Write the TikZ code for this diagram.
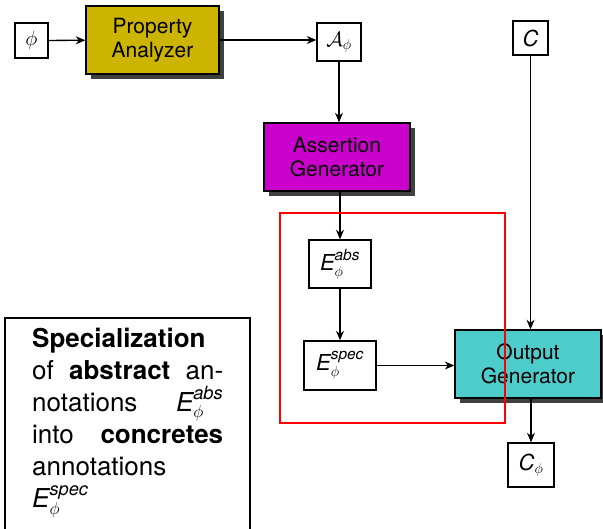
\documentclass[tikz,border=0pt]{standalone}
\usepackage{amsmath}
\usepackage{fontspec}
\setmainfont{TeX Gyre Heros}
\usetikzlibrary{arrows.meta,shadows}
\definecolor{paYellow}{RGB}{204,180,0}
\definecolor{agMagenta}{RGB}{204,0,204}
\definecolor{ogCyan}{RGB}{77,204,204}
\definecolor{shadowGray}{RGB}{64,64,64}
\newcommand{\nodefs}{\fontsize{21}{24}\selectfont}
\newcommand{\mathfs}{\fontsize{22}{24}\selectfont}
\newcommand{\notefs}{\fontsize{26}{32}\selectfont}
\begin{document}
\begin{tikzpicture}[x=1pt,y=-1pt,
  leaf/.style={draw, line width=1.4pt, fill=white, inner sep=0pt, align=center, font=\nodefs},
  proc/.style={leaf, drop shadow={shadow xshift=5pt, shadow yshift=-5pt, fill=shadowGray, opacity=1}},
  arr/.style={-{Stealth[length=9.5pt,width=8pt,inset=3pt]}, line width=1.3pt},
  focusbox/.style={draw=red, line width=1.6pt, inner sep=0pt}
]
\useasboundingbox (0,0) rectangle (603,528);
\fill[white] (0,0) rectangle (603,528);

\node[leaf, minimum width=33pt, minimum height=35pt, font=\mathfs] (phi) at (31.5,40.5) {$\phi$};
\node[proc, fill=paYellow, minimum width=133pt, minimum height=68pt] (pa) at (152.5,40) {Property\\Analyzer};
\node[leaf, minimum width=44pt, minimum height=38pt, font=\mathfs] (A) at (339,42) {$\mathcal{A}_\phi$};
\node[proc, fill=agMagenta, minimum width=146pt, minimum height=68pt] (ag) at (337,157) {Assertion\\Generator};
\node[leaf, minimum width=35pt, minimum height=34pt, font=\mathfs] (C) at (530.5,38) {\textit{C}};
\node[leaf, minimum width=62pt, minimum height=48pt, font=\mathfs] (eabs) at (340,264) {$\textit{E}^{\textit{abs}}_{\phi}$};
\node[leaf, minimum width=72pt, minimum height=49pt, font=\mathfs] (espec) at (340,365.5) {$\textit{E}^{\textit{spec}}_{\phi}$};
\node[proc, fill=ogCyan, minimum width=146pt, minimum height=68pt] (og) at (528,364) {Output\\Generator};
\node[leaf, minimum width=46pt, minimum height=44pt, font=\mathfs] (cphi) at (531,465) {\textit{C}$_\phi$};

\draw[arr] (phi) -- (pa);
\draw[arr] (pa.east) -- (pa.east -| A.west);
\draw[arr] (A.south) -- (A.south |- ag.north);
\draw[arr] (ag.south -| eabs.north) -- (eabs.north);
\draw[arr] (eabs) -- (espec);
\draw[arr] (espec.east) -- (espec.east -| og.west);
\draw[arr] (C.south) -- (C.south |- og.north);
\draw[arr] (og.south -| cphi.north) -- (cphi.north);

\node[focusbox, minimum width=225pt, minimum height=210pt] (focus) at (392.5,318) {};

\draw[line width=1.4pt] (5,540) |- (250,318) -- (250,540);
\node[anchor=north west, inner sep=0pt, text width=191pt, font=\notefs] (note) at (32,328) {%
\textbf{Specialization}\\
of\hfill\textbf{abstract}\hfill an-\\
notations\hfill$\textit{E}^{\textit{abs}}_{\phi}$\\
into\hfill\textbf{concretes}\\
annotations\\
$\textit{E}^{\textit{spec}}_{\phi}$};
\end{tikzpicture}
\end{document}
